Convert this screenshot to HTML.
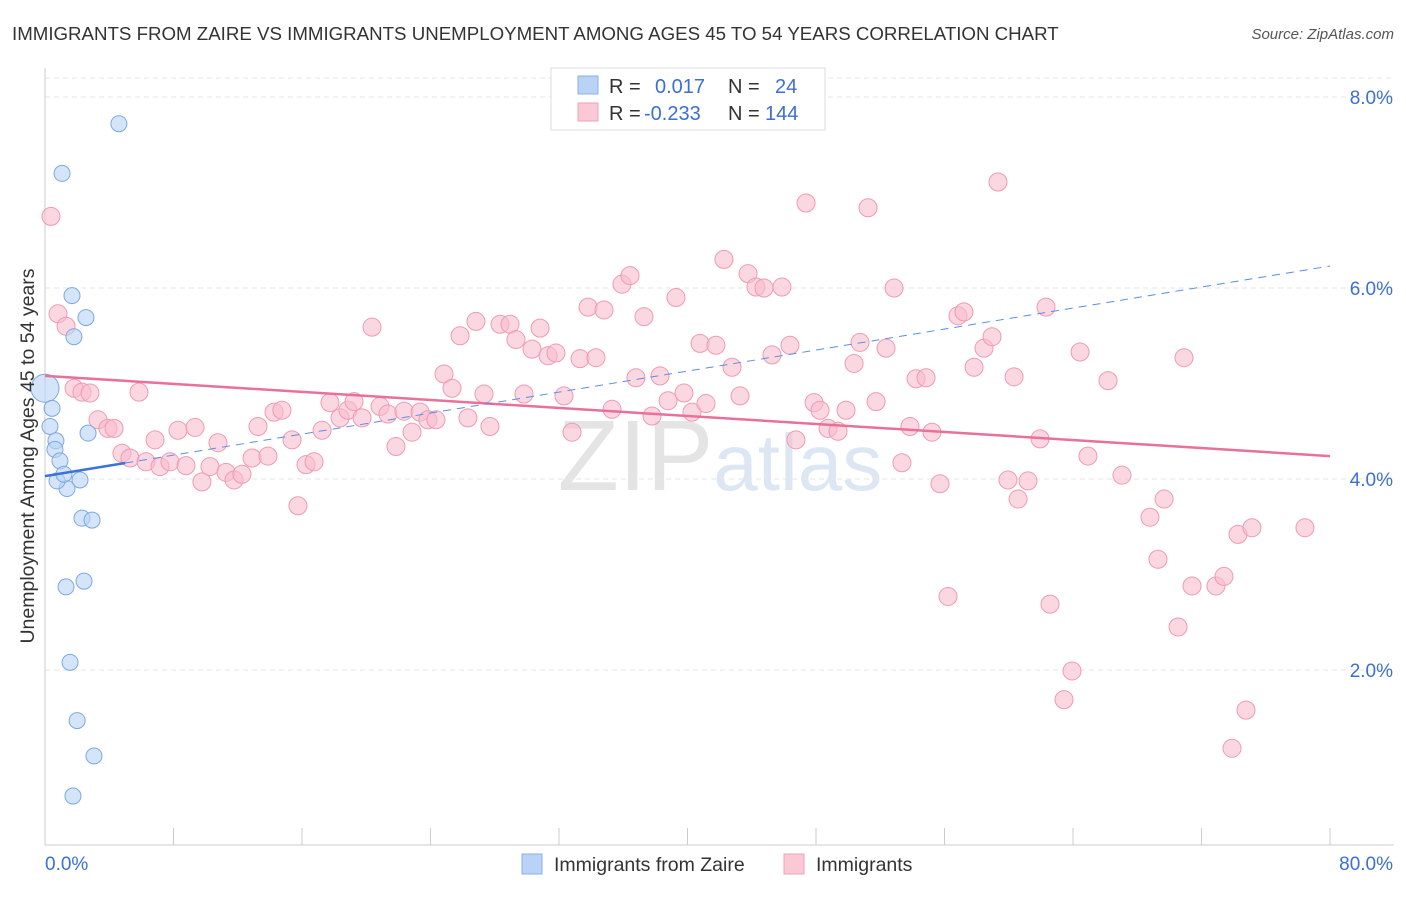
<!DOCTYPE html>
<html><head><meta charset="utf-8"><style>
body{margin:0;background:#fff;font-family:"Liberation Sans",sans-serif}
svg text{font-family:"Liberation Sans",sans-serif}
</style></head><body>
<svg id="c" width="1406" height="892" xmlns="http://www.w3.org/2000/svg">
<text x="12" y="40" font-size="18.7" fill="#333">IMMIGRANTS FROM ZAIRE VS IMMIGRANTS UNEMPLOYMENT AMONG AGES 45 TO 54 YEARS CORRELATION CHART</text>
<text x="1394" y="39" font-size="15" fill="#555" text-anchor="end" font-style="italic">Source: ZipAtlas.com</text>
<text x="720" y="490" font-size="100" fill="#e4e4e4" text-anchor="middle" font-family="Liberation Serif">ZIP<tspan fill="#dde6f3" font-family="Liberation Sans" font-size="80">atlas</tspan></text>
<g id="grid"></g><g id="axes"></g><g id="pts"></g><g id="trend"></g>
<text transform="translate(34,456) rotate(-90)" font-size="19.5" fill="#333" text-anchor="middle">Unemployment Among Ages 45 to 54 years</text>
<g>
<rect x="551" y="68" width="274" height="62" fill="#fff" stroke="#ddd"/>
<rect x="578" y="76" width="20" height="18" fill="#b8d3f5" stroke="#8ab0e6"/>
<rect x="578" y="103" width="20" height="18" fill="#fbc8d6" stroke="#f0a0b8"/>
<text x="609" y="93" font-size="20" fill="#333">R =</text><text x="655" y="93" font-size="20" fill="#3b6fd4">0.017</text>
<text x="728" y="93" font-size="20" fill="#333">N =</text><text x="775" y="93" font-size="20" fill="#3b6fd4">24</text>
<text x="609" y="120" font-size="20" fill="#333">R =</text><text x="644" y="120" font-size="20" fill="#3b6fd4">-0.233</text>
<text x="728" y="120" font-size="20" fill="#333">N =</text><text x="765" y="120" font-size="20" fill="#3b6fd4">144</text>
</g>
<g>
<rect x="522" y="854" width="20" height="20" fill="#b8d3f5" stroke="#8ab0e6"/>
<text x="554" y="871" font-size="19.5" fill="#333">Immigrants from Zaire</text>
<rect x="784" y="854" width="20" height="20" fill="#fbc8d6" stroke="#f0a0b8"/>
<text x="816" y="871" font-size="19.5" fill="#333">Immigrants</text>
</g>
</svg>
<script>
const yTicks=[2,4,6,8];
const yTickLabels=["2.0%","4.0%","6.0%","8.0%"];
const xTicks=[0,8,16,24,32,40,48,56,64,72,80];
const blueX=[4.6,1.06,1.68,2.55,1.8,0,0.44,0.31,0.68,0.62,0.93,2.68,1.37,0.75,1.18,2.18,2.3,2.93,2.43,1.31,1.56,2,3.05,1.74];
const blueY=[7.72,7.2,5.92,5.69,5.49,4.95,4.74,4.55,4.4,4.31,4.19,4.48,3.9,3.98,4.05,3.99,3.59,3.57,2.93,2.87,2.08,1.47,1.1,0.68];
const pinkPx=[[51,216],[58,314],[66,326],[74,388],[82,392],[90,393],[139,392],[98,420],[108,428],[114,428],[122,453],[130,458],[146,462],[155,440],[160,467],[170,462],[178,430],[186,466],[195,427],[202,482],[210,467],[218,443],[226,472],[234,480],[242,474],[252,458],[258,426],[268,456],[274,412],[282,410],[292,440],[298,506],[306,465],[314,462],[322,430],[330,403],[340,418],[348,410],[354,402],[362,418],[372,327],[380,406],[388,414],[396,447],[404,411],[412,432],[420,412],[428,420],[436,420],[444,374],[452,388],[460,336],[468,418],[476,321],[484,394],[490,426],[500,324],[510,324],[516,340],[524,394],[532,349],[540,328],[548,356],[556,353],[564,396],[572,432],[580,359],[588,307],[596,358],[604,310],[612,409],[622,284],[630,276],[636,378],[644,317],[652,416],[660,376],[668,401],[676,298],[684,393],[692,412],[700,343],[706,404],[716,345],[724,259],[732,367],[740,396],[748,274],[756,287],[764,288],[772,355],[782,287],[790,345],[796,440],[806,203],[814,403],[820,410],[828,428],[838,431],[846,410],[854,363],[860,342],[868,208],[876,402],[886,348],[894,288],[902,463],[910,426],[916,379],[926,378],[932,432],[940,484],[948,596],[958,316],[964,312],[974,367],[984,348],[992,337],[998,182],[1008,480],[1014,377],[1018,499],[1028,481],[1040,439],[1046,307],[1050,604],[1064,700],[1072,671],[1080,352],[1088,456],[1108,381],[1122,475],[1150,517],[1158,559],[1164,499],[1178,627],[1184,358],[1192,586],[1216,586],[1224,576],[1232,748],[1238,534],[1246,710],[1252,528],[1305,528]];
const pinkX=pinkPx.map(p=>+((p[0]-45)/16.0625).toFixed(2));
const pinkY=pinkPx.map(p=>+((861-p[1])/95.5).toFixed(2));
const pinkTrend=[5.08,4.24];
const blueTrend=[4.03,6.23];
const X=v=>45+v*16.0625, Y=v=>861-v*95.5;
const NS="http://www.w3.org/2000/svg";
function mk(t,a,p){const e=document.createElementNS(NS,t);for(const k in a)e.setAttribute(k,a[k]);document.getElementById(p).appendChild(e);return e;}
let g=mk('line',{x1:45,x2:1394,y1:78,y2:78,stroke:'#e6e6e6','stroke-dasharray':'5,4'},'grid');


yTicks.forEach((v,i)=>{
 const l=mk('line',{x1:45,x2:1394,y1:Y(v),y2:Y(v),stroke:'#e6e6e6','stroke-dasharray':'5,4'},'grid');
 
 
 const t=mk('text',{x:1393,y:Y(v)+7,'font-size':19,fill:'#3b6fd4','text-anchor':'end'},'grid');t.textContent=yTickLabels[i];
 
 
});
let ax=mk('line',{x1:45,x2:45,y1:68,y2:845,stroke:'#ccc'},'axes');


ax=mk('line',{x1:45,x2:1394,y1:845,y2:845,stroke:'#ccc'},'axes');


xTicks.forEach(v=>{const l=mk('line',{x1:X(v),x2:X(v),y1:828,y2:845,stroke:'#ccc'},'axes');
 
 });
let t=mk('text',{x:45,y:870,'font-size':19,fill:'#3b6fd4'},'axes');t.textContent='0.0%';


t=mk('text',{x:1393,y:870,'font-size':19,fill:'#3b6fd4','text-anchor':'end'},'axes');t.textContent='80.0%';


pinkX.forEach((x,i)=>{const c=mk('circle',{cx:X(x),cy:Y(pinkY[i]),r:9,fill:'#f8bccd','fill-opacity':0.6,stroke:'#f09ab4','stroke-width':1},'pts');
 
 });
blueX.forEach((x,i)=>{const c=mk('circle',{cx:X(x),cy:Y(blueY[i]),r:i==5?14:8,fill:'#b8d3f5','fill-opacity':0.6,stroke:'#7ea8e0','stroke-width':1},'pts');
 
 });
let tl=mk('line',{x1:X(0),y1:Y(pinkTrend[0]),x2:X(80),y2:Y(pinkTrend[1]),stroke:'#e8709a','stroke-width':2.5},'trend');


const bAt=v=>blueTrend[0]+(blueTrend[1]-blueTrend[0])*v/80;
tl=mk('line',{x1:X(5),y1:Y(bAt(5)),x2:X(80),y2:Y(bAt(80)),stroke:'#5b8ee0','stroke-width':1,'stroke-dasharray':'8,6'},'trend');


tl=mk('line',{x1:X(0),y1:Y(bAt(0)),x2:X(5),y2:Y(bAt(5)),stroke:'#3b73d6','stroke-width':2.5},'trend');


</script>
</body></html>
